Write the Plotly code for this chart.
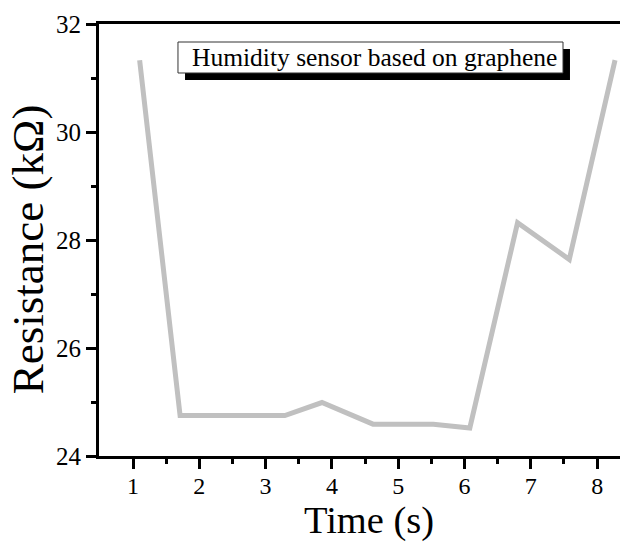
import plotly.graph_objects as go

time_s = [1.10, 1.71, 3.29, 3.85, 4.62, 5.53, 6.08, 6.80, 7.58, 8.27]
resistance_kohm = [31.33, 24.75, 24.75, 24.99, 24.59, 24.59, 24.52, 28.32, 27.64, 31.33]
x_ticks = [1, 2, 3, 4, 5, 6, 7, 8]
y_ticks = [24, 26, 28, 30, 32]
label_text = "Humidity sensor based on graphene"
x_title = "Time (s)"
y_title = "Resistance (kΩ)"

FONT = "Liberation Serif, Times New Roman, serif"

fig = go.Figure()
fig.add_trace(go.Scatter(
    x=time_s, y=resistance_kohm, mode="lines",
    line=dict(color="#c0c0c0", width=5), showlegend=False,
    hoverinfo="skip",
))

# shadow box and label box (paper coordinates)
fig.add_shape(type="rect", xref="paper", yref="paper",
              x0=0.1651, x1=0.904, y0=0.8704, y1=0.9421,
              fillcolor="black", line=dict(color="black", width=0))
fig.add_shape(type="rect", xref="paper", yref="paper",
              x0=0.1516, x1=0.8906, y0=0.8866, y1=0.9583,
              fillcolor="white", line=dict(color="#333333", width=1))
fig.add_annotation(
    x=0.5282, y=0.9225, xref="paper", yref="paper", xanchor="center", yanchor="middle",
    text=label_text, showarrow=False,
    font=dict(family=FONT, size=25.5, color="black"),
)

# axis titles
fig.add_annotation(
    x=0.518, y=-0.150, xref="paper", yref="paper", xanchor="center", yanchor="middle",
    text=x_title, showarrow=False, font=dict(family=FONT, size=38.5, color="black"),
)
fig.add_annotation(
    x=-0.136, y=0.479, xref="paper", yref="paper", xanchor="center", yanchor="middle",
    text=y_title, showarrow=False, textangle=-90,
    font=dict(family=FONT, size=45, color="black"),
)

fig.update_layout(
    width=620, height=542,
    margin=dict(l=99, r=0, t=24, b=86),
    paper_bgcolor="white", plot_bgcolor="white",
    font=dict(family=FONT, color="black"),
    xaxis=dict(
        range=[0.487, 8.345], tickvals=x_ticks, ticks="outside", ticklen=10, tickwidth=3,
        tickcolor="black", showline=True, linewidth=3, linecolor="black", mirror=True,
        showgrid=False, zeroline=False, tickfont=dict(size=24), ticklabelstandoff=-4,
        minor=dict(tickvals=[1.5, 2.5, 3.5, 4.5, 5.5, 6.5, 7.5], ticks="outside",
                   ticklen=5, tickwidth=3, tickcolor="black"),
    ),
    yaxis=dict(
        range=[24, 32], tickvals=y_ticks, ticks="outside", ticklen=10, tickwidth=3,
        tickcolor="black", showline=True, linewidth=3, linecolor="black",
        showgrid=False, zeroline=False, tickfont=dict(size=25),
        minor=dict(tickvals=[25, 27, 29, 31], ticks="outside",
                   ticklen=5, tickwidth=3, tickcolor="black"),
    ),
)

fig.write_html("out.html")
